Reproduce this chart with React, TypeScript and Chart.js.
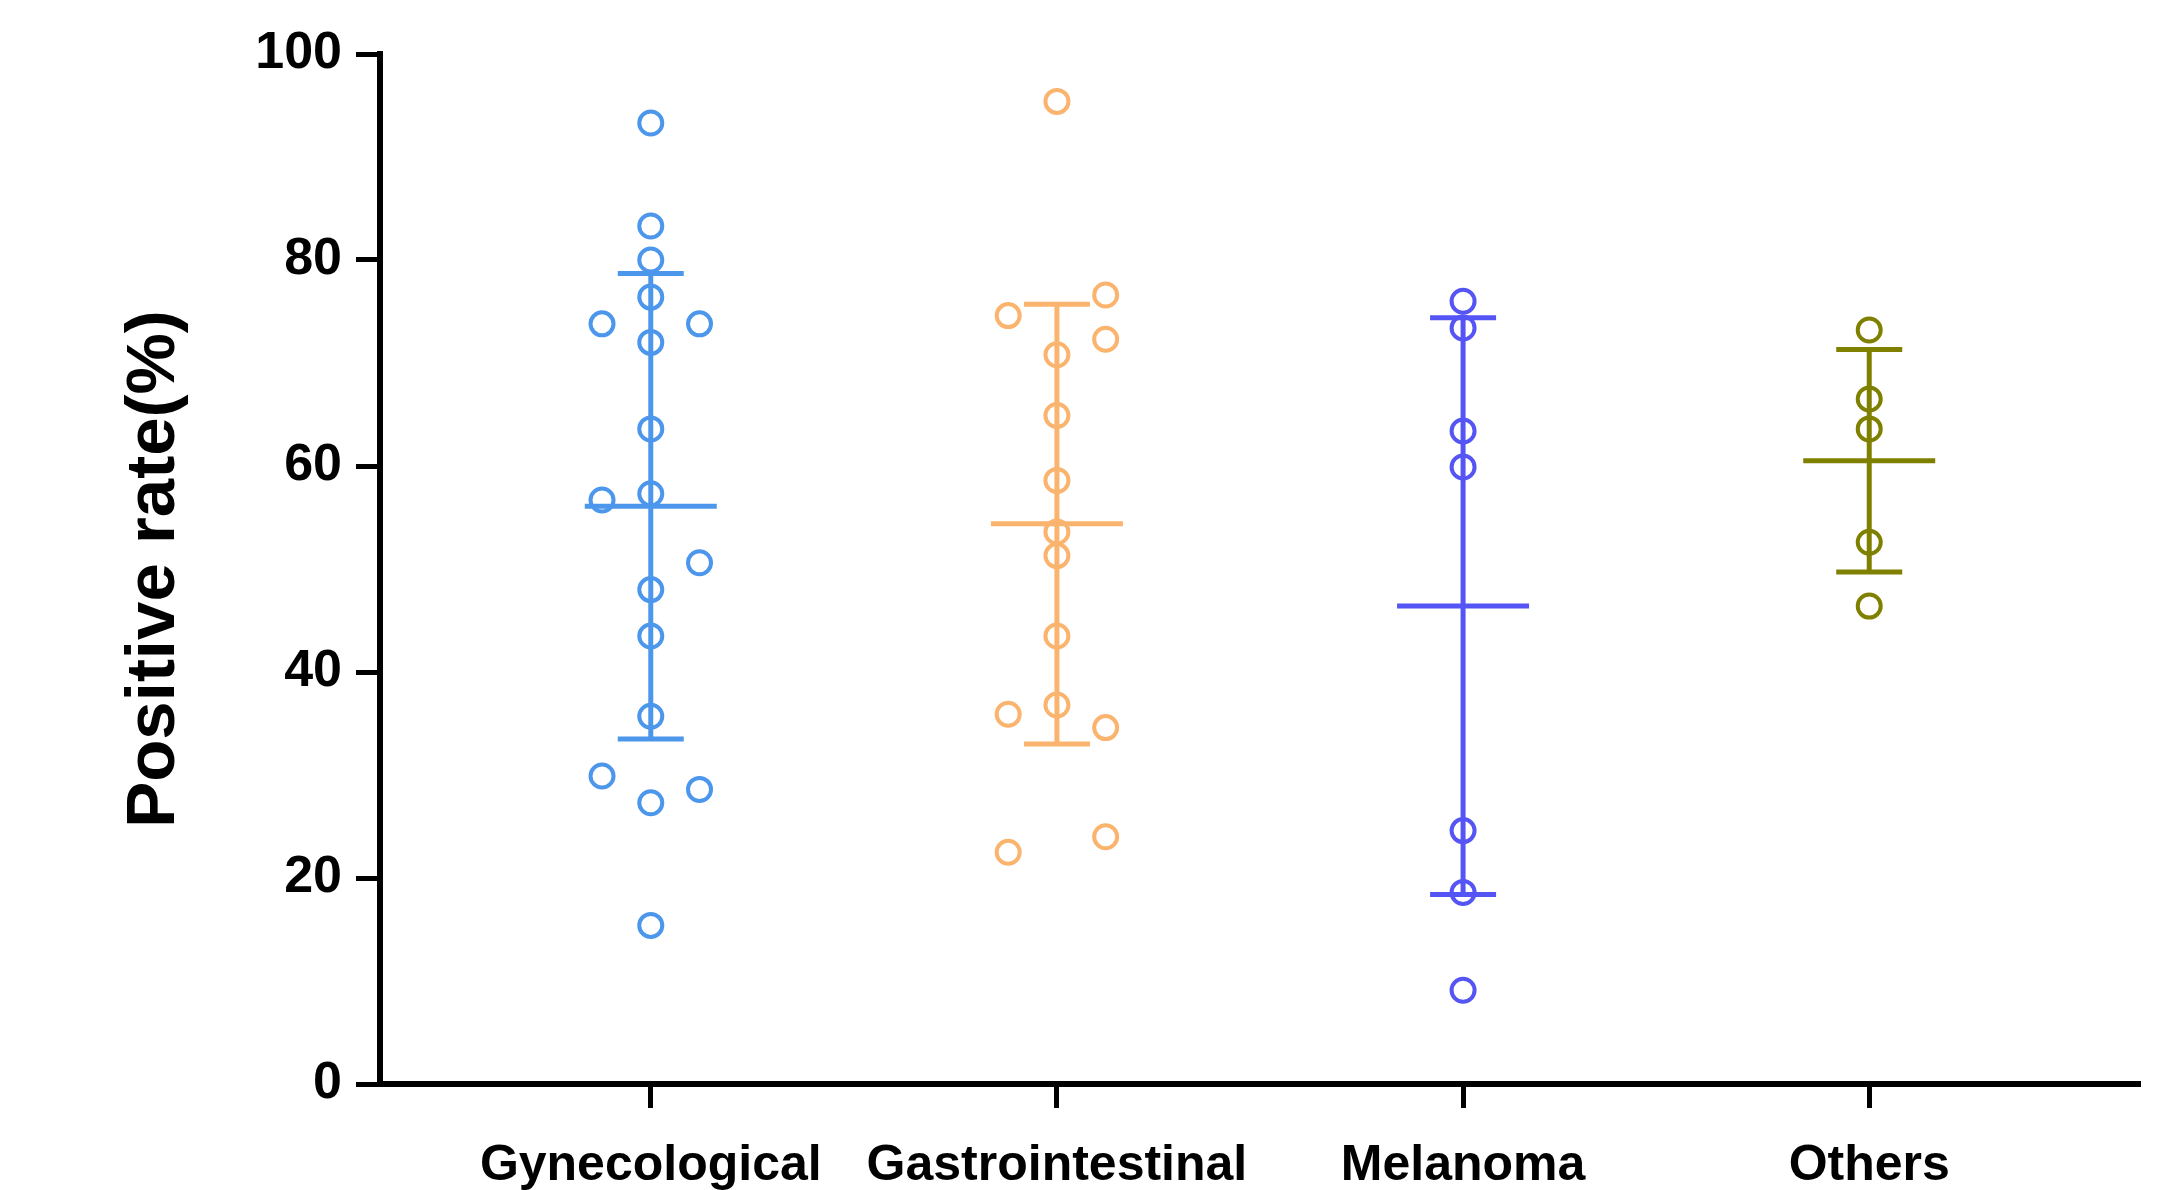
import React, { useEffect, useRef } from "react";
import { Chart, registerables } from "chart.js";

Chart.register(...registerables);

const categories = ["Gynecological", "Gastrointestinal", "Melanoma", "Others"];

const gynecologicalValues = [93.3, 83.3, 80.0, 76.4, 73.8, 73.8, 72.0, 63.6, 57.3, 56.7, 50.6, 48.0, 43.5, 35.7, 29.9, 28.6, 27.3, 15.4];
const gynecologicalSide = [0, 0, 0, 0, -1, 1, 0, 0, 0, -1, 1, 0, 0, 0, -1, 1, 0, 0];

const gastrointestinalValues = [95.4, 76.6, 74.6, 72.3, 70.8, 64.9, 58.6, 53.6, 51.3, 43.5, 36.8, 35.9, 34.6, 24.0, 22.5];
const gastrointestinalSide = [0, 1, -1, 1, 0, 0, 0, 0, 0, 0, 0, -1, 1, 1, -1];

const melanomaValues = [76.0, 73.4, 63.4, 59.9, 24.6, 18.6, 9.1];
const melanomaSide = [0, 0, 0, 0, 0, 0, 0];

const othersValues = [73.2, 66.5, 63.6, 52.6, 46.4];
const othersSide = [0, 0, 0, 0, 0];

const meanValues = [56.1, 54.4, 46.4, 60.5];
const sdUpper = [78.7, 75.7, 74.4, 71.3];
const sdLower = [33.5, 33.0, 18.4, 49.7];

const yTicks = [0, 20, 40, 60, 80, 100];

const colors = ["#4C97EC", "#FBB46E", "#5555F5", "#808000"];

const JITTER = 0.12;
const MEAN_HALF = 66;
const CAP_HALF = 33;
const FONT = "'Liberation Sans', Arial, Helvetica, sans-serif";

const groups = [
  { values: gynecologicalValues, side: gynecologicalSide },
  { values: gastrointestinalValues, side: gastrointestinalSide },
  { values: melanomaValues, side: melanomaSide },
  { values: othersValues, side: othersSide },
];

const errorBarPlugin = {
  id: "meanSd",
  beforeDatasetsDraw(chart: any) {
    const { ctx, scales } = chart;
    const xs = scales.x;
    const ys = scales.y;
    ctx.save();
    ctx.lineWidth = 5;
    ctx.lineCap = "butt";
    categories.forEach((_, i) => {
      const cx = xs.getPixelForValue(i);
      const yMean = ys.getPixelForValue(meanValues[i]);
      const yHi = ys.getPixelForValue(sdUpper[i]);
      const yLo = ys.getPixelForValue(sdLower[i]);
      ctx.strokeStyle = colors[i];
      ctx.beginPath();
      ctx.moveTo(cx, yHi);
      ctx.lineTo(cx, yLo);
      ctx.moveTo(cx - CAP_HALF, yHi);
      ctx.lineTo(cx + CAP_HALF, yHi);
      ctx.moveTo(cx - CAP_HALF, yLo);
      ctx.lineTo(cx + CAP_HALF, yLo);
      ctx.moveTo(cx - MEAN_HALF, yMean);
      ctx.lineTo(cx + MEAN_HALF, yMean);
      ctx.stroke();
    });
    ctx.restore();
  },
};

export default function App() {
  const canvasRef = useRef<HTMLCanvasElement | null>(null);

  useEffect(() => {
    document.body.style.margin = "0";
    const canvas = canvasRef.current;
    if (!canvas) return;

    const datasets = groups.map((g, i) => ({
      label: categories[i],
      data: g.values.map((v, k) => ({ x: i + g.side[k] * JITTER, y: v })),
      borderColor: colors[i],
      backgroundColor: "rgba(0,0,0,0)",
      pointStyle: "circle",
      pointRadius: 11.5,
      pointBorderWidth: 4,
      pointHoverRadius: 11.5,
    }));

    const chart = new Chart(canvas, {
      type: "scatter",
      data: { datasets },
      plugins: [errorBarPlugin],
      options: {
        responsive: true,
        maintainAspectRatio: false,
        animation: false,
        layout: { padding: { top: 54, right: 36, left: 0, bottom: 0 } },
        plugins: {
          legend: { display: false },
          tooltip: { enabled: false },
        },
        scales: {
          x: {
            type: "linear",
            min: -2 / 3,
            max: 3 + 2 / 3,
            afterBuildTicks: (s: any) => {
              s.ticks = categories.map((_, i) => ({ value: i }));
            },
            afterFit: (s: any) => {
              s.height = 106;
            },
            grid: {
              drawOnChartArea: false,
              drawTicks: true,
              tickLength: 24,
              tickWidth: 5,
              tickColor: "#000",
            },
            border: { display: true, color: "#000", width: 6 },
            ticks: {
              autoSkip: false,
              maxRotation: 0,
              minRotation: 0,
              padding: 28,
              color: "#000",
              font: { family: FONT, size: 50, weight: "bold" },
              callback: (v: any) => categories[v as number] ?? "",
            },
          },
          y: {
            type: "linear",
            min: 0,
            max: 100,
            afterBuildTicks: (s: any) => {
              s.ticks = yTicks.map((v) => ({ value: v }));
            },
            afterFit: (s: any) => {
              s.width = 380;
            },
            grid: {
              drawOnChartArea: false,
              drawTicks: true,
              tickLength: 24,
              tickWidth: 5,
              tickColor: "#000",
            },
            border: { display: true, color: "#000", width: 6 },
            ticks: {
              padding: 14,
              color: "#000",
              font: { family: FONT, size: 52, weight: "bold" },
              callback: (v: any) => String(v),
            },
            title: {
              display: true,
              text: "Positive rate(%)",
              color: "#000",
              font: { family: FONT, size: 69, weight: "bold" },
              padding: { top: 114, bottom: 0 },
            },
          },
        },
      },
    } as any);

    return () => {
      chart.destroy();
    };
  }, []);

  return (
    <div style={{ width: 2176, height: 1190, position: "relative", background: "#fff" }}>
      <canvas ref={canvasRef} />
    </div>
  );
}
